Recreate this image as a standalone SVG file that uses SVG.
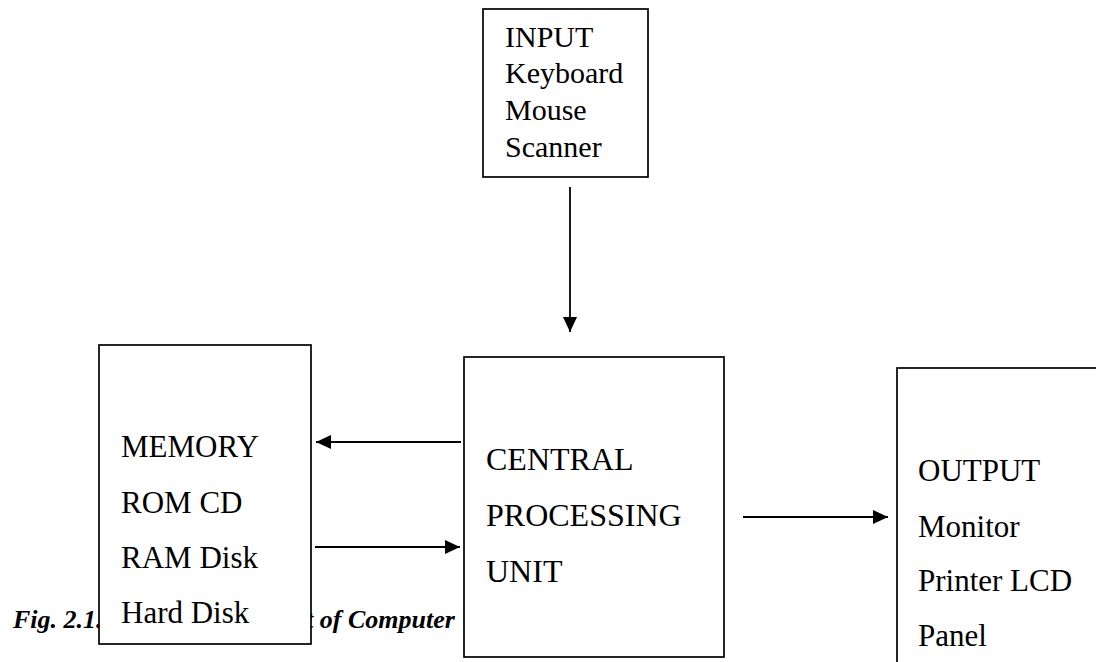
<svg xmlns="http://www.w3.org/2000/svg" width="1096" height="662" viewBox="0 0 1096 662">
  <defs>
    <marker id="arrow" markerUnits="userSpaceOnUse" markerWidth="16" markerHeight="16" viewBox="0 0 16 16" refX="15" refY="8" orient="auto">
      <path d="M0,1 L15,8 L0,15 Z" fill="#000"/>
    </marker>
    <style>
      .box { fill: #fff; stroke: #000; stroke-width: 1.7; }
      .lbl { font-family: "Liberation Serif", "Times New Roman", serif; fill: #000; }
      .conn { stroke: #000; stroke-width: 1.8; fill: none; marker-end: url(#arrow); }
      .cap { font-family: "Liberation Serif", "Times New Roman", serif; font-weight: bold; font-style: italic; font-size: 26px; fill: #000; }
    </style>
  </defs>
  <rect width="1096" height="662" fill="#fff"/>

  <g id="caption">
    <text class="cap" x="13" y="628">Fig. 2.1.</text>
    <text class="cap" x="306" y="628">t of Computer</text>
  </g>

  <g id="input">
    <rect class="box" x="483" y="9" width="165" height="168"/>
    <text class="lbl" font-size="30" x="505" y="47">INPUT</text>
    <text class="lbl" font-size="30" x="505" y="83">Keyboard</text>
    <text class="lbl" font-size="30" x="505" y="120">Mouse</text>
    <text class="lbl" font-size="30" x="505" y="157">Scanner</text>
  </g>

  <g id="memory">
    <rect class="box" x="99" y="345" width="212" height="299"/>
    <text class="lbl" font-size="31" x="121" y="457">MEMORY</text>
    <text class="lbl" font-size="31" x="121" y="513">ROM CD</text>
    <text class="lbl" font-size="31" x="121" y="568">RAM Disk</text>
    <text class="lbl" font-size="31" x="121" y="623">Hard Disk</text>
  </g>

  <g id="cpu">
    <rect class="box" x="464" y="357" width="260" height="300"/>
    <text class="lbl" font-size="32" x="486" y="470">CENTRAL</text>
    <text class="lbl" font-size="32" x="486" y="526">PROCESSING</text>
    <text class="lbl" font-size="32" x="486" y="582">UNIT</text>
  </g>

  <g id="output">
    <rect class="box" x="897" y="368" width="220" height="320"/>
    <text class="lbl" font-size="31" x="918" y="481">OUTPUT</text>
    <text class="lbl" font-size="31" x="918" y="537">Monitor</text>
    <text class="lbl" font-size="31" x="918" y="591">Printer LCD</text>
    <text class="lbl" font-size="31" x="918" y="646">Panel</text>
  </g>

  <g id="connectors">
    <line class="conn" x1="570" y1="187" x2="570" y2="332"/>
    <line class="conn" x1="461" y1="442" x2="316" y2="442"/>
    <line class="conn" x1="315" y1="547" x2="460" y2="547"/>
    <line class="conn" x1="743" y1="517" x2="888" y2="517"/>
  </g>
</svg>
